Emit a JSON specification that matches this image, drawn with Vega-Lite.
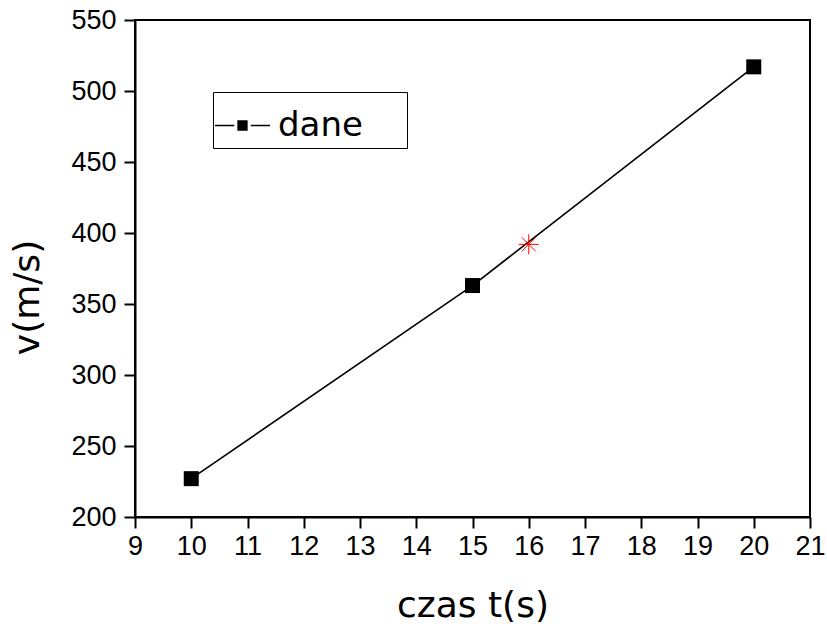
{
  "$schema": "https://vega.github.io/schema/vega-lite/v6.json",
  "autosize": "none",
  "width": 675,
  "height": 497,
  "padding": {"left": 135, "top": 20, "right": 17, "bottom": 107},
  "background": "white",
  "config": {
    "view": {"stroke": "black", "strokeWidth": 2},
    "axis": {
      "grid": false,
      "domainColor": "black",
      "domainWidth": 2,
      "tickColor": "black",
      "tickWidth": 2,
      "labelFont": "Liberation Sans",
      "labelFontSize": 27,
      "labelColor": "black",
      "titleFont": "DejaVu Sans",
      "titleFontSize": 36,
      "titleFontWeight": "normal",
      "titleColor": "black",
      "labelOverlap": false,
      "labelFlush": false
    }
  },
  "datasets": {
    "dane": [
      {"t": 10, "v": 227, "series": "dane"},
      {"t": 15, "v": 363, "series": "dane"},
      {"t": 20, "v": 517, "series": "dane"}
    ],
    "gwiazdka": [
      {"t": 16, "v": 392}
    ]
  },
  "layer": [
    {
      "data": {"name": "dane"},
      "mark": {"type": "line", "color": "black", "strokeWidth": 1.6},
      "encoding": {
        "x": {
          "field": "t", "type": "quantitative",
          "scale": {"domain": [9, 21], "nice": false, "zero": false},
          "axis": {
            "title": "czas t(s)",
            "values": [9, 9.5, 10, 10.5, 11, 11.5, 12, 12.5, 13, 13.5, 14, 14.5, 15, 15.5, 16, 16.5, 17, 17.5, 18, 18.5, 19, 19.5, 20, 20.5, 21],
            "labelExpr": "datum.value % 1 === 0 ? format(datum.value, 'd') : ''",
            "tickSize": {"condition": {"test": "datum.value % 1 === 0", "value": 11}, "value": 5},
            "labelPadding": 5,
            "titlePadding": 29
          }
        },
        "y": {
          "field": "v", "type": "quantitative",
          "scale": {"domain": [200, 550], "nice": false, "zero": false},
          "axis": {
            "title": "v(m/s)",
            "values": [200, 225, 250, 275, 300, 325, 350, 375, 400, 425, 450, 475, 500, 525, 550],
            "labelExpr": "datum.value % 50 === 0 ? format(datum.value, 'd') : ''",
            "tickSize": {"condition": {"test": "datum.value % 50 === 0", "value": 11}, "value": 5},
            "labelPadding": 8,
            "titlePadding": 24,
            "titleY": 277
          }
        }
      }
    },
    {
      "data": {"name": "dane"},
      "mark": {"type": "point", "shape": "square", "filled": true, "size": 225, "opacity": 1},
      "encoding": {
        "x": {"field": "t", "type": "quantitative"},
        "y": {"field": "v", "type": "quantitative"},
        "color": {
          "field": "series", "type": "nominal",
          "scale": {"range": ["black"]},
          "legend": {
            "title": "dane",
            "titleOrient": "right",
            "titleOpacity": 0,
            "titleFontSize": 14,
            "titlePadding": 6,
            "orient": "none",
            "legendX": 78,
            "legendY": 72,
            "strokeColor": "black",
            "padding": 5,
            "symbolOffset": -4,
            "symbolType": "M-1,0H-0.3M0.3,0H1M-0.16,-0.16H0.16V0.16H-0.16Z",
            "symbolSize": 3025,
            "symbolFillColor": "black",
            "symbolStrokeColor": "black",
            "symbolStrokeWidth": 1.5,
            "symbolOpacity": 1,
            "labelFont": "DejaVu Sans",
            "labelFontSize": 34,
            "labelColor": "black",
            "labelOffset": 7,
            "labelLimit": 400
          }
        }
      }
    },
    {
      "data": {"name": "gwiazdka"},
      "mark": {"type": "point", "shape": "M0,-1V1M-1,0H1M-0.7,-0.7L0.7,0.7M-0.7,0.7L0.7,-0.7", "filled": false, "color": "red", "strokeWidth": 1, "size": 400, "opacity": 1},
      "encoding": {
        "x": {"field": "t", "type": "quantitative"},
        "y": {"field": "v", "type": "quantitative"}
      }
    }
  ]
}
